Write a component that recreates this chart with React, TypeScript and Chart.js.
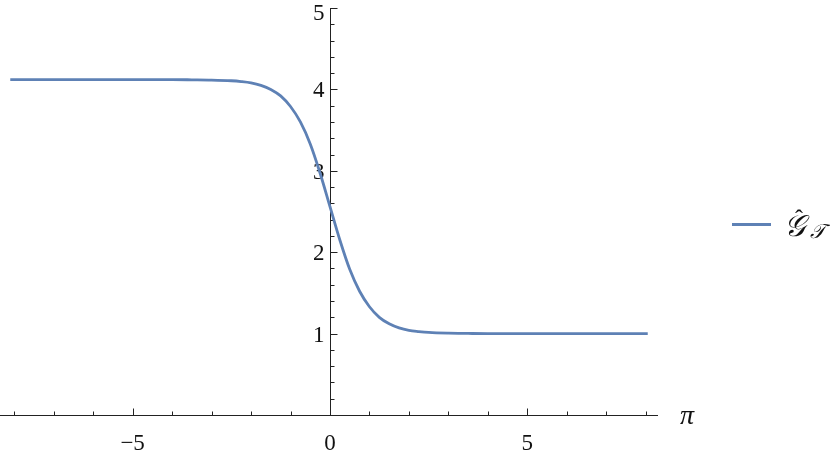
import React, { useEffect, useRef } from "react";
import { Chart, registerables } from "chart.js";

Chart.register(...registerables);

// Curve readings (x, G)
const xValues = [-8.1, -6, -4, -3.5, -3, -2.5, -2.25, -2, -1.75, -1.5, -1.25, -1, -0.75, -0.5, -0.25, 0, 0.25, 0.5, 0.75, 1, 1.25, 1.5, 1.75, 2, 2.25, 2.5, 3, 3.5, 4, 6, 8.05];
const yValues = [4.12, 4.12, 4.12, 4.118, 4.115, 4.106, 4.096, 4.08, 4.05, 4.0, 3.92, 3.79, 3.6, 3.33, 2.97, 2.56, 2.15, 1.79, 1.52, 1.33, 1.2, 1.12, 1.07, 1.04, 1.025, 1.014, 1.005, 1.002, 1.0, 1.0, 1.0];

const xMajorTicks = [-5, 0, 5];
const xTickLabels = ["\u22125", "0", "5"];
const xMinorTicks = [-8, -7, -6, -4, -3, -2, -1, 1, 2, 3, 4, 6, 7, 8];
const yMajorTicks = [1, 2, 3, 4, 5];
const yTickLabels = ["1", "2", "3", "4", "5"];
const yMinorTicks = [0.2, 0.4, 0.6, 0.8, 1.2, 1.4, 1.6, 1.8, 2.2, 2.4, 2.6, 2.8, 3.2, 3.4, 3.6, 3.8, 4.2, 4.4, 4.6, 4.8];

const seriesLabel = "\u011c_T";
const xAxisLabel = "\u03c0";
const lineColor = "#5E81B5";
const serif = "'Liberation Serif', 'DejaVu Serif', serif";

const axesPlugin = {
  id: "mmaAxes",
  beforeDatasetsDraw(chart: any) {
    const ctx = chart.ctx;
    const xs = chart.scales.x;
    const ys = chart.scales.y;
    const x0 = Math.round(xs.getPixelForValue(0)) + 0.5;
    const y0 = Math.round(ys.getPixelForValue(0)) + 0.5;
    ctx.save();
    ctx.strokeStyle = "#222";
    ctx.lineWidth = 1;
    ctx.beginPath();
    ctx.moveTo(chart.chartArea.left, y0);
    ctx.lineTo(chart.chartArea.right, y0);
    ctx.moveTo(x0, ys.getPixelForValue(5));
    ctx.lineTo(x0, y0);
    for (const v of xMajorTicks) {
      const px = Math.round(xs.getPixelForValue(v)) + 0.5;
      ctx.moveTo(px, y0);
      ctx.lineTo(px, y0 - 7);
    }
    for (const v of xMinorTicks) {
      const px = Math.round(xs.getPixelForValue(v)) + 0.5;
      ctx.moveTo(px, y0);
      ctx.lineTo(px, y0 - 4);
    }
    for (const v of yMajorTicks) {
      const py = Math.round(ys.getPixelForValue(v)) + 0.5;
      ctx.moveTo(x0, py);
      ctx.lineTo(x0 + 7, py);
    }
    for (const v of yMinorTicks) {
      const py = Math.round(ys.getPixelForValue(v)) + 0.5;
      ctx.moveTo(x0, py);
      ctx.lineTo(x0 + 4, py);
    }
    ctx.stroke();

    ctx.fillStyle = "#111";
    ctx.font = "23px " + serif;
    ctx.textAlign = "center";
    ctx.textBaseline = "alphabetic";
    xMajorTicks.forEach((v, i) => {
      ctx.fillText(xTickLabels[i], xs.getPixelForValue(v), 450);
    });
    ctx.textAlign = "right";
    yMajorTicks.forEach((v, i) => {
      const py = ys.getPixelForValue(v);
      ctx.fillText(yTickLabels[i], x0 - 6, v === 5 ? 20 : py + 8);
    });
    ctx.textAlign = "center";
    ctx.font = "italic 28px " + serif;
    ctx.fillText(xAxisLabel, 687, 424);
    ctx.restore();
  },
  afterDraw(chart: any) {
    const ctx = chart.ctx;
    ctx.save();
    ctx.strokeStyle = lineColor;
    ctx.lineWidth = 3;
    ctx.beginPath();
    ctx.moveTo(732, 224.5);
    ctx.lineTo(771, 224.5);
    ctx.stroke();
    ctx.fillStyle = "#111";
    ctx.textAlign = "left";
    ctx.font = "italic 30px " + serif;
    ctx.fillText("\ud835\udca2", 784, 236);
    ctx.font = "24px " + serif;
    ctx.fillText("\u02c6", 795, 226);
    ctx.font = "italic 20px " + serif;
    ctx.fillText("\ud835\udcaf", 810, 238);
    ctx.restore();
  },
};

export default function App() {
  const ref = useRef<HTMLCanvasElement>(null);
  useEffect(() => {
    if (!ref.current) return;
    const chart = new Chart(ref.current, {
      type: "line",
      data: {
        datasets: [
          {
            label: seriesLabel,
            data: xValues.map((x, i) => ({ x, y: yValues[i] })),
            borderColor: lineColor,
            borderWidth: 2.8,
            pointRadius: 0,
            fill: false,
            cubicInterpolationMode: "monotone",
            borderCapStyle: "butt",
          },
        ],
      },
      options: {
        animation: false,
        responsive: false,
        layout: { padding: { left: 0, right: 172, top: 8, bottom: 37 } },
        plugins: { legend: { display: false }, tooltip: { enabled: false } },
        scales: {
          x: { type: "linear", min: -8.36, max: 8.31, display: false },
          y: { type: "linear", min: 0, max: 5, display: false },
        },
      },
      plugins: [axesPlugin],
    });
    if ((document as any).fonts && (document as any).fonts.load) {
      Promise.all([
        (document as any).fonts.load("23px 'Liberation Serif'"),
        (document as any).fonts.load("italic 28px 'Liberation Serif'"),
      ]).then(() => chart.draw()).catch(() => {});
    }
    return () => chart.destroy();
  }, []);
  return (
    <div style={{ position: "absolute", left: 0, top: 0, width: 830, height: 452, background: "#fff" }}>
      <canvas ref={ref} width={830} height={452} />
    </div>
  );
}
